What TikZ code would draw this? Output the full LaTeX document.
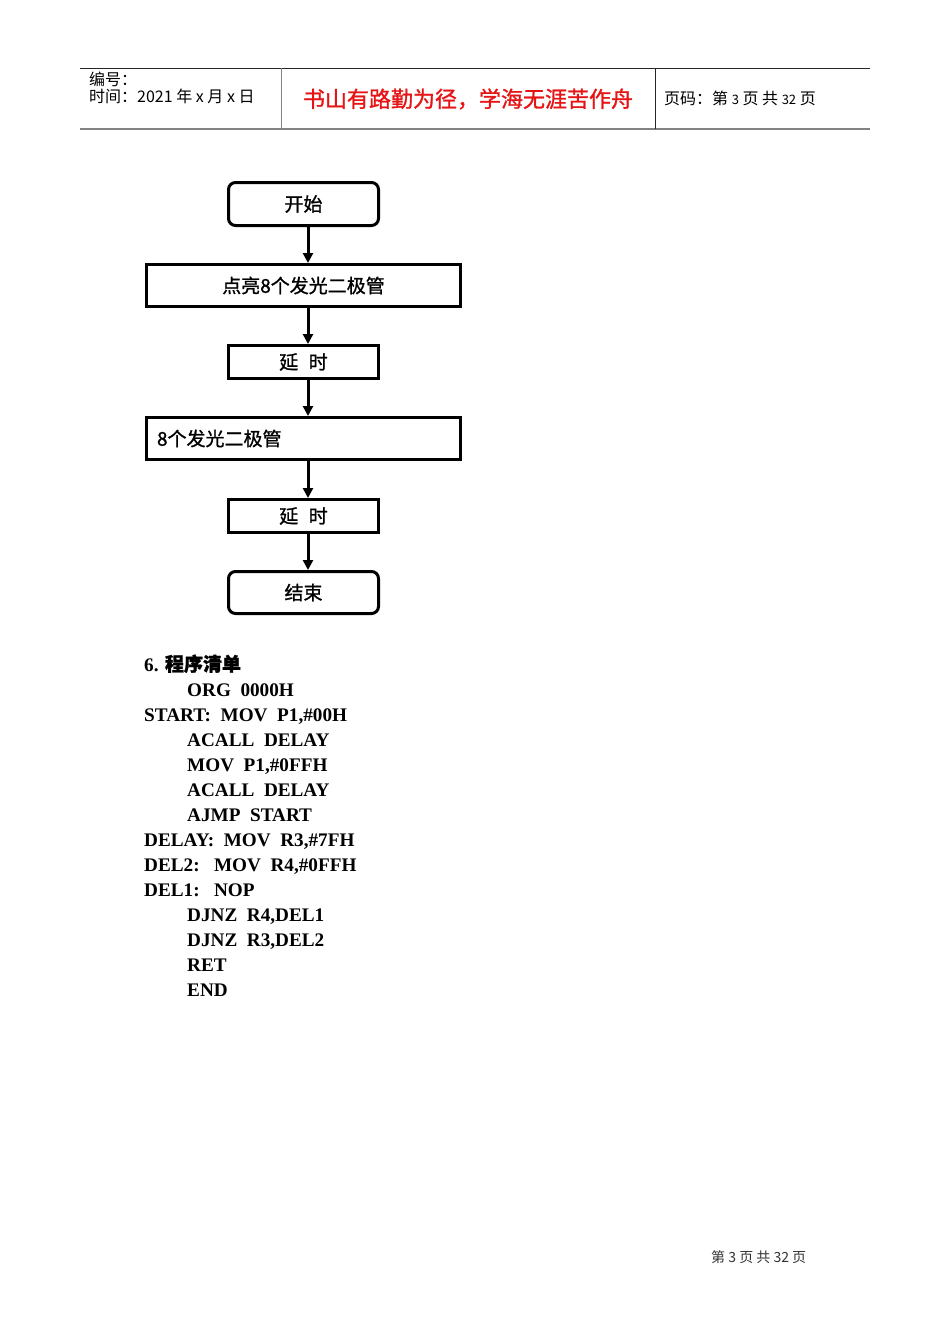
\documentclass[tikz,border=0pt]{standalone}
\usepackage{fontspec}
\setmainfont{Liberation Serif}
\newfontfamily\cjk{Noto Sans CJK SC}
\newfontfamily\cjkm[FakeBold=1.2]{Noto Sans CJK SC}
\usetikzlibrary{arrows.meta}
\definecolor{hdrred}{RGB}{230,20,20}
\definecolor{hdrgray}{RGB}{130,130,130}
\tikzset{
  box/.style={draw=black, line width=3pt, inner sep=0pt, font=\cjkm\fontsize{19}{19}\selectfont},
  term/.style={box, rounded corners=7pt},
  flow/.style={line width=3pt, -{Triangle[length=10pt,width=10pt]}},
  code/.style={anchor=base west, inner sep=0pt, font=\bfseries\fontsize{19.2}{20}\selectfont},
  hdr/.style={anchor=west, inner sep=0pt, font=\cjk\fontsize{16}{16}\selectfont},
}
\begin{document}
\begin{tikzpicture}[x=1pt,y=-1pt]
\useasboundingbox (0,0) rectangle (950,1344);
% header
\draw[line width=1pt, black!85] (80,68) -- (870,68);
\draw[line width=2pt, hdrgray] (80,129) -- (870,129);
\draw[line width=1pt, hdrgray] (281,68) -- (281,129);
\draw[line width=1pt, black!85] (655,68) -- (655,129);
\node[hdr] (h1) at (89,79) {编号：};
\node[hdr] (h2) at (89,96) {时间：2021 年 x 月 x 日};
\node[anchor=center, inner sep=0pt, text=hdrred, font=\cjkm\fontsize{22}{22}\selectfont] (h3) at (468,99) {书山有路勤为径，学海无涯苦作舟};
\node[hdr] (h4) at (664,98) {页码：第 {\fontsize{13}{13}\selectfont 3} 页 共 {\fontsize{13}{13}\selectfont 32} 页};
% flowchart
\node[term, minimum width=150pt, minimum height=43pt] (s) at (303.5,204) {开始};
\node[box, minimum width=314pt, minimum height=42pt] (b1) at (303.5,285.5) {点亮8个发光二极管};
\node[box, minimum width=150pt, minimum height=33pt] (d1) at (303.5,362) {延\hspace{0.55em}时};
\node[box, minimum width=314pt, minimum height=42pt, text width=293pt, inner xsep=10.5pt, align=left] (b2) at (303.5,438.5) {8个发光二极管};
\node[box, minimum width=150pt, minimum height=33pt] (d2) at (303.5,516) {延\hspace{0.55em}时};
\node[term, minimum width=150pt, minimum height=42pt] (e) at (303.5,592.5) {结束};
\draw[flow] ([xshift=4.5pt]s.south) -- ([xshift=4.5pt]b1.north);
\draw[flow] ([xshift=4.5pt]b1.south) -- ([xshift=4.5pt]d1.north);
\draw[flow] ([xshift=4.5pt]d1.south) -- ([xshift=4.5pt]b2.north);
\draw[flow] ([xshift=4.5pt]b2.south) -- ([xshift=4.5pt]d2.north);
\draw[flow] ([xshift=4.5pt]d2.south) -- ([xshift=4.5pt]e.north);
% program listing
\node[code] (c0) at (144,671) {6. {\cjkm\fontsize{19}{19}\selectfont 程序清单}};
\node[code] (c1) at (187,696) {ORG\ \ 0000H};
\node[code] (c2) at (144,721) {START:\ \ MOV\ \ P1,\#00H};
\node[code] (c3) at (187,746) {ACALL\ \ DELAY};
\node[code] (c4) at (187,771) {MOV\ \ P1,\#0FFH};
\node[code] (c5) at (187,796) {ACALL\ \ DELAY};
\node[code] (c6) at (187,821) {AJMP\ \ START};
\node[code] (c7) at (144,846) {DELAY:\ \ MOV\ \ R3,\#7FH};
\node[code] (c8) at (144,871) {DEL2:\ \ \ MOV\ \ R4,\#0FFH};
\node[code] (c9) at (144,896) {DEL1:\ \ \ NOP};
\node[code] (c10) at (187,921) {DJNZ\ \ R4,DEL1};
\node[code] (c11) at (187,946) {DJNZ\ \ R3,DEL2};
\node[code] (c12) at (187,971) {RET};
\node[code] (c13) at (187,996) {END};
% footer
\node[anchor=west, inner sep=0pt, text=black!80, font=\cjk\fontsize{14}{14}\selectfont] (f) at (711,1257) {第 3 页 共 32 页};
\end{tikzpicture}
\end{document}
